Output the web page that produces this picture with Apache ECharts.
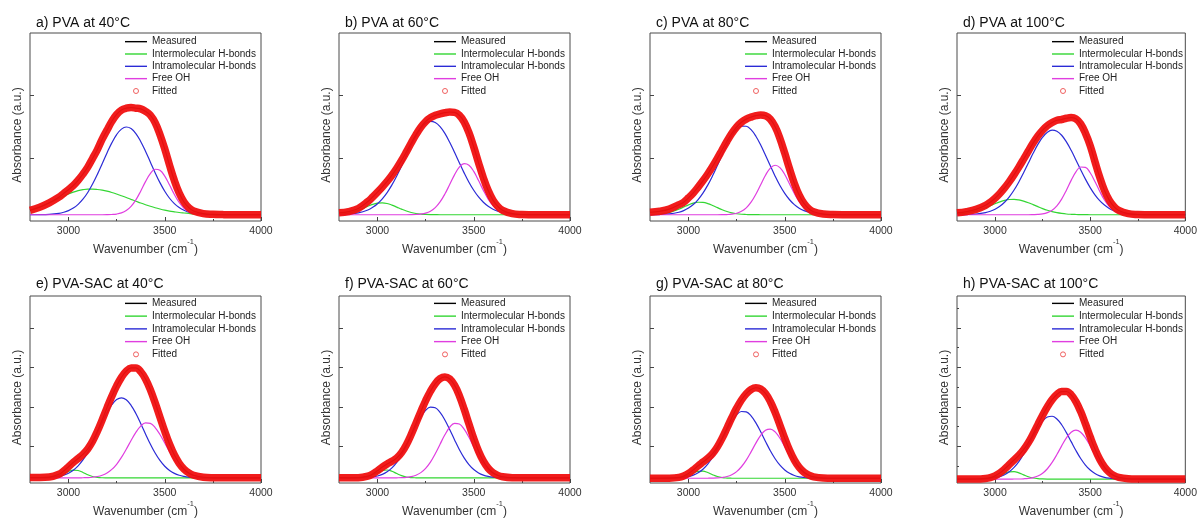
<!DOCTYPE html>
<html><head><meta charset="utf-8">
<script src="https://cdn.jsdelivr.net/npm/echarts@6/dist/echarts.min.js"></script>
<style>html,body{margin:0;padding:0;background:#fff}#c{width:1200px;height:519px}</style>
</head><body><div id="c"></div>
<script>
const wavenumber = [2800,2850,2900,2950,2975,3000,3025,3050,3075,3100,3125,3150,3175,3200,3225,3250,3275,3300,3325,3350,3375,3400,3425,3450,3475,3500,3525,3550,3575,3600,3625,3650,3700,3750,3800,3850,3900,3950,4000];
const xTickValues = [3000, 3500, 4000];
const xMinorTickValues = [3250, 3750];
const yTicksTop = [1, 2];
const yTicksBottom = [0.93, 1.93, 2.93, 3.93];
const yMinorTicksH = [0.43, 1.43, 2.43, 3.43, 4.43];
const panelTitles = ['a) PVA at 40°C','b) PVA at 60°C','c) PVA at 80°C','d) PVA at 100°C','e) PVA-SAC at 40°C','f) PVA-SAC at 60°C','g) PVA-SAC at 80°C','h) PVA-SAC at 100°C'];
const seriesNames = ['Measured','Intermolecular H-bonds','Intramolecular H-bonds','Free OH','Fitted'];

// a) PVA 40°C
const measA  = [0.17,0.22,0.29,0.38,0.44,0.50,0.566,0.65,0.748,0.86,0.998,1.14,1.306,1.45,1.59,1.70,1.77,1.80,1.81,1.80,1.79,1.75,1.69,1.57,1.38,1.15,0.89,0.645,0.446,0.303,0.213,0.160,0.118,0.106,0.102,0.10,0.10,0.10,0.10];
const interA = [0.176,0.225,0.288,0.360,0.396,0.430,0.460,0.484,0.500,0.509,0.509,0.503,0.492,0.476,0.455,0.430,0.403,0.375,0.345,0.316,0.287,0.260,0.235,0.212,0.192,0.174,0.159,0.147,0.136,0.128,0.121,0.115,0.108,0.104,0.102,0.10,0.10,0.10,0.10];
const intraA = [0.100,0.101,0.106,0.122,0.139,0.165,0.206,0.266,0.348,0.455,0.589,0.744,0.914,1.087,1.247,1.379,1.466,1.500,1.475,1.396,1.270,1.114,0.942,0.771,0.612,0.475,0.363,0.277,0.215,0.171,0.142,0.124,0.107,0.102,0.10,0.10,0.10,0.10,0.10];
const freeA  = [0.10,0.10,0.10,0.10,0.10,0.10,0.10,0.10,0.10,0.10,0.10,0.10,0.10,0.101,0.104,0.111,0.129,0.166,0.233,0.337,0.476,0.628,0.757,0.826,0.810,0.716,0.573,0.423,0.295,0.204,0.150,0.121,0.103,0.10,0.10,0.10,0.10,0.10,0.10];
// b) PVA 60°C
const measB  = [0.13,0.15,0.20,0.311,0.383,0.461,0.544,0.632,0.730,0.841,0.966,1.103,1.245,1.379,1.496,1.587,1.649,1.686,1.710,1.728,1.739,1.733,1.688,1.582,1.409,1.181,0.928,0.688,0.485,0.333,0.232,0.170,0.117,0.104,0.101,0.10,0.10,0.10,0.10];
const interB = [0.107,0.126,0.170,0.235,0.265,0.285,0.290,0.279,0.254,0.222,0.189,0.159,0.136,0.120,0.110,0.105,0.102,0.101,0.10,0.10,0.10,0.10,0.10,0.10,0.10,0.10,0.10,0.10,0.10,0.10,0.10,0.10,0.10,0.10,0.10,0.10,0.10,0.10,0.10];
const intraB = [0.103,0.110,0.129,0.176,0.218,0.276,0.354,0.453,0.576,0.719,0.877,1.044,1.208,1.355,1.475,1.556,1.590,1.572,1.506,1.398,1.257,1.097,0.930,0.768,0.619,0.490,0.383,0.299,0.235,0.188,0.156,0.134,0.111,0.103,0.101,0.10,0.10,0.10,0.10];
const freeB  = [0.10,0.10,0.10,0.10,0.10,0.10,0.10,0.10,0.10,0.10,0.10,0.10,0.101,0.104,0.111,0.126,0.157,0.213,0.304,0.430,0.582,0.736,0.858,0.914,0.890,0.791,0.645,0.489,0.350,0.245,0.176,0.136,0.106,0.101,0.10,0.10,0.10,0.10,0.10];
// c) PVA 80°C
const measC  = [0.14,0.155,0.19,0.26,0.30,0.37,0.448,0.541,0.641,0.750,0.869,0.999,1.137,1.273,1.397,1.500,1.576,1.626,1.658,1.681,1.692,1.681,1.625,1.505,1.318,1.082,0.831,0.599,0.413,0.281,0.196,0.148,0.111,0.102,0.10,0.10,0.10,0.10,0.10];
const interC = [0.102,0.110,0.135,0.188,0.223,0.257,0.285,0.299,0.296,0.278,0.248,0.213,0.179,0.151,0.130,0.116,0.108,0.104,0.101,0.101,0.10,0.10,0.10,0.10,0.10,0.10,0.10,0.10,0.10,0.10,0.10,0.10,0.10,0.10,0.10,0.10,0.10,0.10,0.10];
const intraC = [0.101,0.103,0.113,0.140,0.166,0.206,0.263,0.342,0.445,0.572,0.721,0.886,1.057,1.219,1.358,1.460,1.514,1.512,1.457,1.353,1.213,1.050,0.880,0.715,0.566,0.440,0.339,0.261,0.204,0.165,0.139,0.122,0.107,0.102,0.10,0.10,0.10,0.10,0.10];
const freeC  = [0.10,0.10,0.10,0.10,0.10,0.10,0.10,0.10,0.10,0.10,0.10,0.10,0.101,0.103,0.109,0.124,0.154,0.210,0.300,0.427,0.579,0.731,0.845,0.890,0.852,0.742,0.592,0.438,0.309,0.216,0.157,0.126,0.104,0.10,0.10,0.10,0.10,0.10,0.10];
// d) PVA 100°C
const measD  = [0.13,0.15,0.185,0.25,0.30,0.364,0.440,0.529,0.629,0.740,0.860,0.987,1.117,1.243,1.356,1.449,1.521,1.571,1.607,1.62,1.64,1.65,1.63,1.55,1.40,1.203,0.948,0.699,0.489,0.333,0.230,0.168,0.117,0.104,0.101,0.10,0.10,0.10,0.10];
const interD = [0.109,0.126,0.159,0.212,0.244,0.276,0.305,0.329,0.343,0.346,0.337,0.318,0.292,0.261,0.229,0.198,0.171,0.149,0.133,0.121,0.112,0.107,0.104,0.102,0.101,0.10,0.10,0.10,0.10,0.10,0.10,0.10,0.10,0.10,0.10,0.10,0.10,0.10,0.10];
const intraD = [0.101,0.103,0.111,0.133,0.155,0.188,0.235,0.300,0.386,0.494,0.623,0.769,0.925,1.080,1.222,1.338,1.417,1.450,1.432,1.368,1.263,1.128,0.975,0.818,0.668,0.533,0.418,0.325,0.254,0.201,0.164,0.139,0.113,0.104,0.101,0.10,0.10,0.10,0.10];
const freeD  = [0.10,0.10,0.10,0.10,0.10,0.10,0.10,0.10,0.10,0.10,0.10,0.10,0.10,0.102,0.105,0.113,0.133,0.172,0.242,0.350,0.492,0.648,0.784,0.862,0.856,0.770,0.630,0.474,0.335,0.232,0.166,0.129,0.104,0.10,0.10,0.10,0.10,0.10,0.10];
// e) PVA-SAC 40°C
const measE  = [0.14,0.14,0.15,0.220,0.303,0.412,0.523,0.621,0.725,0.862,1.058,1.311,1.601,1.905,2.198,2.461,2.678,2.834,2.917,2.916,2.823,2.638,2.367,2.035,1.671,1.309,0.982,0.709,0.500,0.353,0.255,0.196,0.145,0.132,0.13,0.13,0.13,0.13,0.13];
const interE = [0.13,0.13,0.136,0.182,0.234,0.293,0.328,0.317,0.268,0.209,0.165,0.142,0.133,0.131,0.13,0.13,0.13,0.13,0.13,0.13,0.13,0.13,0.13,0.13,0.13,0.13,0.13,0.13,0.13,0.13,0.13,0.13,0.13,0.13,0.13,0.13,0.13,0.13,0.13];
const intraE = [0.13,0.132,0.140,0.168,0.199,0.249,0.325,0.434,0.584,0.776,1.007,1.265,1.531,1.780,1.984,2.116,2.160,2.109,1.970,1.762,1.510,1.244,0.987,0.759,0.571,0.424,0.318,0.244,0.196,0.167,0.149,0.140,0.132,0.13,0.13,0.13,0.13,0.13,0.13];
const freeE  = [0.13,0.13,0.13,0.13,0.13,0.13,0.13,0.13,0.133,0.137,0.146,0.164,0.197,0.254,0.344,0.475,0.648,0.855,1.077,1.284,1.443,1.524,1.510,1.406,1.230,1.015,0.794,0.595,0.434,0.316,0.236,0.186,0.143,0.132,0.13,0.13,0.13,0.13,0.13];
// f) PVA-SAC 60°C
const measF  = [0.135,0.132,0.135,0.175,0.229,0.311,0.403,0.483,0.550,0.635,0.771,0.972,1.229,1.517,1.808,2.085,2.326,2.518,2.645,2.690,2.639,2.480,2.217,1.875,1.497,1.127,0.804,0.552,0.374,0.260,0.194,0.159,0.134,0.13,0.13,0.13,0.13,0.13,0.13];
const interF = [0.13,0.13,0.133,0.163,0.205,0.263,0.315,0.329,0.297,0.239,0.186,0.152,0.137,0.132,0.13,0.13,0.13,0.13,0.13,0.13,0.13,0.13,0.13,0.13,0.13,0.13,0.13,0.13,0.13,0.13,0.13,0.13,0.13,0.13,0.13,0.13,0.13,0.13,0.13];
const intraF = [0.13,0.13,0.132,0.142,0.154,0.178,0.218,0.284,0.383,0.524,0.710,0.937,1.191,1.447,1.675,1.843,1.925,1.907,1.792,1.598,1.356,1.098,0.851,0.638,0.468,0.343,0.256,0.201,0.168,0.149,0.139,0.134,0.13,0.13,0.13,0.13,0.13,0.13,0.13];
const freeF  = [0.13,0.13,0.13,0.13,0.13,0.13,0.13,0.13,0.13,0.132,0.135,0.143,0.161,0.198,0.263,0.372,0.531,0.741,0.983,1.222,1.413,1.512,1.496,1.367,1.159,0.914,0.678,0.481,0.336,0.241,0.185,0.155,0.134,0.13,0.13,0.13,0.13,0.13,0.13];
// g) PVA-SAC 80°C
const measG  = [0.12,0.12,0.123,0.143,0.179,0.242,0.333,0.436,0.531,0.626,0.745,0.916,1.138,1.394,1.655,1.897,2.104,2.264,2.370,2.414,2.384,2.269,2.067,1.790,1.465,1.132,0.828,0.578,0.394,0.272,0.197,0.156,0.125,0.12,0.12,0.12,0.12,0.12,0.12];
const interG = [0.12,0.12,0.121,0.133,0.157,0.199,0.254,0.297,0.301,0.265,0.210,0.164,0.136,0.125,0.121,0.12,0.12,0.12,0.12,0.12,0.12,0.12,0.12,0.12,0.12,0.12,0.12,0.12,0.12,0.12,0.12,0.12,0.12,0.12,0.12,0.12,0.12,0.12,0.12];
const intraG = [0.12,0.12,0.122,0.130,0.142,0.163,0.199,0.259,0.350,0.480,0.652,0.864,1.102,1.345,1.564,1.728,1.812,1.803,1.701,1.523,1.297,1.053,0.819,0.615,0.451,0.329,0.245,0.190,0.157,0.139,0.129,0.124,0.12,0.12,0.12,0.12,0.12,0.12,0.12];
const freeG  = [0.12,0.12,0.12,0.12,0.12,0.12,0.12,0.12,0.12,0.121,0.123,0.128,0.140,0.164,0.210,0.289,0.412,0.581,0.789,1.011,1.207,1.336,1.368,1.295,1.134,0.923,0.703,0.508,0.357,0.253,0.188,0.152,0.125,0.12,0.12,0.12,0.12,0.12,0.12];
// h) PVA-SAC 100°C
const measH  = [0.10,0.10,0.101,0.115,0.137,0.181,0.253,0.354,0.467,0.584,0.702,0.845,1.023,1.242,1.481,1.719,1.933,2.113,2.244,2.317,2.319,2.237,2.064,1.810,1.498,1.168,0.860,0.601,0.404,0.271,0.189,0.142,0.108,0.101,0.10,0.10,0.10,0.10,0.10];
const interH = [0.10,0.10,0.10,0.107,0.121,0.148,0.192,0.244,0.282,0.288,0.257,0.207,0.159,0.127,0.110,0.103,0.10,0.10,0.10,0.10,0.10,0.10,0.10,0.10,0.10,0.10,0.10,0.10,0.10,0.10,0.10,0.10,0.10,0.10,0.10,0.10,0.10,0.10,0.10];
const intraH = [0.10,0.10,0.101,0.108,0.116,0.133,0.161,0.210,0.285,0.395,0.543,0.731,0.948,1.178,1.393,1.567,1.672,1.692,1.623,1.477,1.276,1.049,0.824,0.622,0.455,0.328,0.239,0.180,0.143,0.122,0.111,0.105,0.101,0.10,0.10,0.10,0.10,0.10,0.10];
const freeH  = [0.10,0.10,0.10,0.10,0.10,0.10,0.10,0.10,0.10,0.101,0.102,0.107,0.116,0.137,0.178,0.249,0.361,0.521,0.721,0.940,1.143,1.288,1.340,1.288,1.143,0.940,0.721,0.521,0.361,0.249,0.178,0.137,0.107,0.101,0.10,0.10,0.10,0.10,0.10];

const panels = [
  {measured: measA, inter: interA, intra: intraA, free: freeA},
  {measured: measB, inter: interB, intra: intraB, free: freeB},
  {measured: measC, inter: interC, intra: intraC, free: freeC},
  {measured: measD, inter: interD, intra: intraD, free: freeD},
  {measured: measE, inter: interE, intra: intraE, free: freeE},
  {measured: measF, inter: interF, intra: intraF, free: freeF},
  {measured: measG, inter: interG, intra: intraG, free: freeG},
  {measured: measH, inter: interH, intra: intraH, free: freeH}
];

const FONT = '"Liberation Sans", Arial, sans-serif';
const COLORS = {measured: '#000000', inter: '#33d633', intra: '#2b2bd6', free: '#e03ee0', fitted: '#f01010'};
const lefts = [30, 339, 650, 957];
const layout = panels.map((p, i) => {
  const row = Math.floor(i / 4), col = i % 4;
  return row === 0
    ? {left: lefts[col], top: 33, width: 231, height: 188, row}
    : {left: lefts[col], top: 296, width: 231, height: 187, row};
});
const pairs = arr => wavenumber.map((x, k) => [x, arr[k]]);

const grid = [], xAxis = [], yAxis = [], series = [], legend = [], title = [];
layout.forEach((l, i) => {
  grid.push({left: l.left, top: l.top, width: l.width, height: l.height, show: true,
    borderColor: '#4a4a4a', borderWidth: 1, backgroundColor: 'transparent'});
  title.push({text: panelTitles[i], left: l.left + 6, top: l.row === 0 ? 16 : 277, padding: 0,
    textStyle: {fontSize: 14, fontWeight: 'normal', color: '#111', fontFamily: FONT}});
  xAxis.push({type: 'value', gridIndex: i, min: 2800, max: 4000, position: 'bottom',
    axisLine: {show: false}, splitLine: {show: false},
    axisTick: {inside: true, length: 4, customValues: xTickValues, lineStyle: {color: '#444'}},
    axisLabel: {customValues: xTickValues, margin: 5, fontSize: 10.5, color: '#333', fontFamily: FONT,
      formatter: v => String(v)},
    name: '{a|Wavenumber (cm}{s|-1}{a|)}', nameLocation: 'middle', nameGap: 15,
    nameTextStyle: {color: '#333', fontFamily: FONT, rich: {
      a: {fontSize: 12, color: '#333', fontFamily: FONT, lineHeight: 18, verticalAlign: 'bottom'},
      s: {fontSize: 7.5, color: '#333', fontFamily: FONT, lineHeight: 11, verticalAlign: 'top'}}}});
  xAxis.push({type: 'value', gridIndex: i, min: 2800, max: 4000, position: 'bottom',
    axisLine: {show: false}, splitLine: {show: false}, axisLabel: {show: false},
    axisTick: {inside: true, length: 2, customValues: xMinorTickValues, lineStyle: {color: '#444'}}});
  yAxis.push({type: 'value', gridIndex: i, min: 0, max: l.row === 0 ? 3 : 4.74, position: 'left',
    axisLine: {show: false}, splitLine: {show: false}, axisLabel: {show: false},
    axisTick: {inside: true, length: 4, customValues: l.row === 0 ? yTicksTop : yTicksBottom, lineStyle: {color: '#444'}},
    name: 'Absorbance (a.u.)', nameLocation: 'middle', nameGap: 6,
    nameTextStyle: {fontSize: 12, color: '#333', fontFamily: FONT, padding: [0, 16, 0, 0]}});
  const p = panels[i];
  const common = {type: 'line', xAxisIndex: 2 * i, yAxisIndex: i, smooth: 0.4,
    symbol: 'none', silent: true, animation: false};
  series.push(Object.assign({}, common, {name: 'Intermolecular H-bonds', data: pairs(p.inter), z: 2,
    color: COLORS.inter, itemStyle: {color: COLORS.inter}, lineStyle: {width: 1.2, color: COLORS.inter}}));
  series.push(Object.assign({}, common, {name: 'Intramolecular H-bonds', data: pairs(p.intra), z: 2,
    color: COLORS.intra, itemStyle: {color: COLORS.intra}, lineStyle: {width: 1.2, color: COLORS.intra}}));
  series.push(Object.assign({}, common, {name: 'Free OH', data: pairs(p.free), z: 2,
    color: COLORS.free, itemStyle: {color: COLORS.free}, lineStyle: {width: 1.2, color: COLORS.free}}));
  series.push(Object.assign({}, common, {name: 'Measured', data: pairs(p.measured), z: 3,
    color: COLORS.measured, itemStyle: {color: COLORS.measured}, lineStyle: {width: 1.2, color: COLORS.measured}}));
  series.push(Object.assign({}, common, {name: 'Fitted', data: pairs(p.measured), z: 4,
    color: COLORS.fitted, itemStyle: {color: COLORS.fitted}, lineStyle: {width: 7.5, color: COLORS.fitted, opacity: 0.95}}));
  const lh = l.row === 0 ? 12.33 : 12.75;
  legend.push({orient: 'vertical', left: l.left + 95, top: l.top + (l.row === 0 ? 2.5 : 1),
    itemWidth: 22, itemHeight: 5, itemGap: 0, padding: 0, selectedMode: false,
    textStyle: {fontSize: 10, color: '#222', fontFamily: FONT, lineHeight: lh},
    data: seriesNames.map(n => n === 'Fitted'
      ? {name: n, icon: 'circle', itemStyle: {color: '#ffffff', borderColor: '#f06060', borderWidth: 1}}
      : {name: n, icon: 'path://M0,0L22,0L22,1.4L0,1.4Z'})});
});
// extra minor ticks on panel h y-axis
yAxis.push({type: 'value', gridIndex: 7, min: 0, max: 4.74, position: 'left',
  axisLine: {show: false}, splitLine: {show: false}, axisLabel: {show: false},
  axisTick: {inside: true, length: 2, customValues: yMinorTicksH, lineStyle: {color: '#444'}}});

const chart = echarts.init(document.getElementById('c'), null, {renderer: 'canvas'});
chart.setOption({animation: false, backgroundColor: '#fff', title, grid, xAxis, yAxis, series, legend});
</script></body></html>
